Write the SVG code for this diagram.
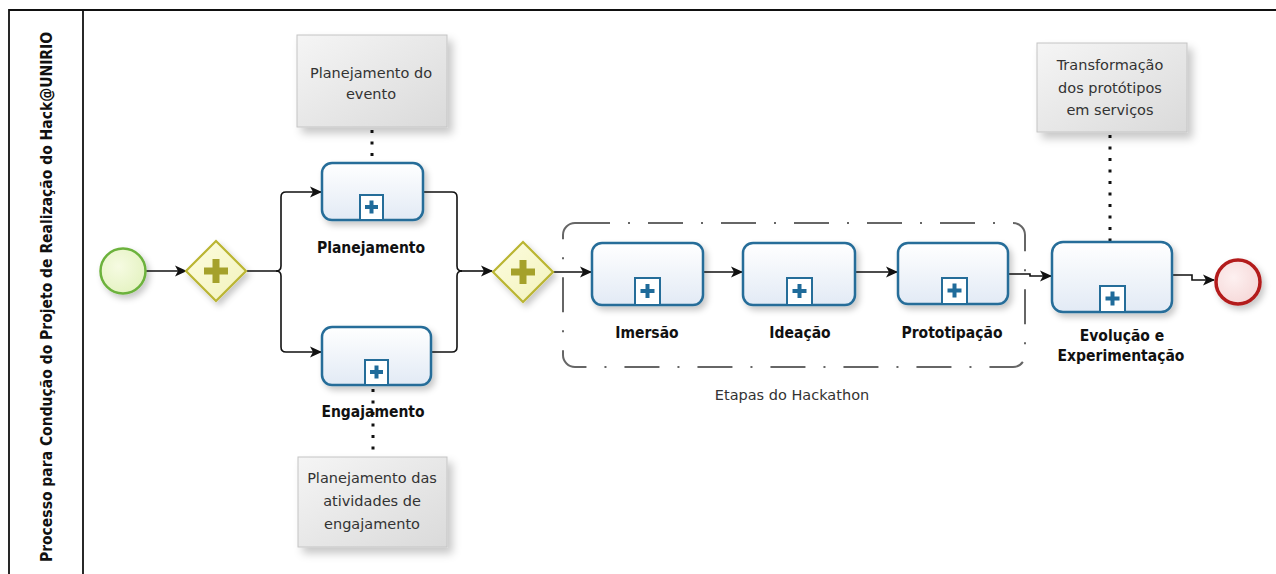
<svg xmlns="http://www.w3.org/2000/svg" width="1276" height="574" viewBox="0 0 1276 574">
<defs>
<style>
.task{fill:url(#gTask);stroke:#256d99;stroke-width:2.5;filter:url(#sh)}
.mk{fill:#ffffff;stroke:#256d99;stroke-width:2}
.mkp{fill:#1f6b9a}
.lbl{font-family:"DejaVu Sans",Verdana,sans-serif;font-stretch:condensed;font-weight:bold;font-size:15.5px;fill:#111;text-anchor:middle}
.ann{fill:url(#gAnn);stroke:#c4c4c4;stroke-width:1;filter:url(#sh2)}
.annt{font-family:"DejaVu Sans",Verdana,sans-serif;font-size:14.5px;fill:#333;text-anchor:middle}
.flow{fill:none;stroke:#111;stroke-width:1.6}
.assoc{fill:none;stroke:#111;stroke-width:3;stroke-dasharray:3 8.5}
.gw{fill:url(#gGw);stroke:#bab532;stroke-width:2.2;filter:url(#sh)}
.gwp{fill:#a5a12b}
</style>
<linearGradient id="gTask" x1="0" y1="0" x2="0" y2="1"><stop offset="0" stop-color="#ffffff"/><stop offset="1" stop-color="#e2eaf5"/></linearGradient>
<linearGradient id="gAnn" x1="0" y1="0" x2="1" y2="1"><stop offset="0" stop-color="#f5f5f5"/><stop offset="1" stop-color="#dadada"/></linearGradient>
<linearGradient id="gGw" x1="0" y1="0" x2="1" y2="1"><stop offset="0" stop-color="#fdfde0"/><stop offset="1" stop-color="#f2f2bc"/></linearGradient>
<radialGradient id="gStart" cx="0.4" cy="0.4" r="0.7"><stop offset="0" stop-color="#f6fbe2"/><stop offset="1" stop-color="#e3f2bf"/></radialGradient>
<radialGradient id="gEnd" cx="0.4" cy="0.4" r="0.7"><stop offset="0" stop-color="#fdf0f0"/><stop offset="1" stop-color="#f5d6d6"/></radialGradient>
<filter id="sh" x="-20%" y="-20%" width="150%" height="150%"><feDropShadow dx="3" dy="4" stdDeviation="3" flood-color="#000" flood-opacity="0.22"/></filter>
<filter id="sh2" x="-20%" y="-20%" width="150%" height="150%"><feDropShadow dx="5" dy="6" stdDeviation="4" flood-color="#000" flood-opacity="0.22"/></filter>
<marker id="arr" markerWidth="12" markerHeight="12" refX="11" refY="6" orient="auto" markerUnits="userSpaceOnUse"><path d="M0,0.5 L12,6 L0,11.5 L3,6 Z" fill="#111"/></marker>
</defs>
<rect x="0" y="0" width="1276" height="574" fill="#ffffff"/>

<g id="pool">
<path d="M9,574 V10 H1276" fill="none" stroke="#111" stroke-width="1.8"/>
<line x1="83" y1="10" x2="83" y2="574" stroke="#111" stroke-width="1.8"/>
<text transform="translate(52,297) rotate(-90)" class="lbl" style="font-size:15.5px">Processo para Condução do Projeto de Realização do Hack@UNIRIO</text>
</g>

<g id="group-hackathon">
<rect x="563" y="223" width="462" height="144" rx="12" fill="none" stroke="#666" stroke-width="2" stroke-dasharray="35 18 2 18"/>
<text x="792" y="400" class="annt">Etapas do Hackathon</text>
</g>

<g id="connectors">
<path class="flow" d="M146,271 H186" marker-end="url(#arr)"/>
<path class="flow" d="M247,271 H276 q5,0 5,-5 V197 q0,-5 5,-5 H321" marker-end="url(#arr)"/>
<path class="flow" d="M276,271 q5,0 5,5 V347 q0,5 5,5 H321" marker-end="url(#arr)"/>
<path class="flow" d="M423,192 H452 q5,0 5,5 V266 q0,5 5,5"/>
<path class="flow" d="M431,352 H452 q5,0 5,-5 V276 q0,-5 5,-5"/>
<path class="flow" d="M460,271 H492" marker-end="url(#arr)"/>
<path class="flow" d="M553,272 H591" marker-end="url(#arr)"/>
<path class="flow" d="M703,272 H742" marker-end="url(#arr)"/>
<path class="flow" d="M855,272 H897" marker-end="url(#arr)"/>
<path class="flow" d="M1008,274 H1030 V276 H1051" marker-end="url(#arr)"/>
<path class="flow" d="M1172,275 H1192 V280 H1214" marker-end="url(#arr)"/>
<path class="assoc" d="M372,130 V162"/>
<path class="assoc" d="M373,389 V455"/>
<path class="assoc" d="M1110,135 V241"/>
</g>

<g id="start">
<circle cx="123" cy="271" r="22.5" fill="url(#gStart)" stroke="#6cb23c" stroke-width="2.5" filter="url(#sh)"/>
</g>

<g id="gateway-split">
<path class="gw" d="M216,241 L246,271 L216,301 L186,271 Z"/>
<path class="gwp" d="M212.5,259 h7 v8.5 h8.5 v7 h-8.5 v8.5 h-7 v-8.5 h-8.5 v-7 h8.5 Z"/>
</g>

<g id="task-planejamento">
<rect class="task" x="322" y="163" width="101" height="57" rx="10"/>
<rect class="mk" x="360" y="195" width="23" height="25"/>
<path class="mkp" d="M369.5,200.5 h4 v4.5 h4.5 v4 h-4.5 v4.5 h-4 v-4.5 h-4.5 v-4 h4.5 Z"/>
<text x="371" y="253" class="lbl">Planejamento</text>
</g>

<g id="task-engajamento">
<rect class="task" x="322" y="327" width="109" height="58" rx="10"/>
<rect class="mk" x="365" y="360" width="23" height="25"/>
<path class="mkp" d="M374.5,365.5 h4 v4.5 h4.5 v4 h-4.5 v4.5 h-4 v-4.5 h-4.5 v-4 h4.5 Z"/>
<text x="373" y="417" class="lbl">Engajamento</text>
</g>

<g id="annot-evento">
<rect class="ann" x="297" y="35" width="150" height="92"/>
<text x="371" y="78" class="annt">Planejamento do</text>
<text x="371" y="99" class="annt">evento</text>
</g>

<g id="annot-engajamento">
<rect class="ann" x="298" y="457" width="149" height="90"/>
<text x="372" y="483" class="annt">Planejamento das</text>
<text x="372" y="506" class="annt">atividades de</text>
<text x="372" y="529" class="annt">engajamento</text>
</g>

<g id="gateway-join">
<path class="gw" d="M523,242 L553,272 L523,302 L493,272 Z"/>
<path class="gwp" d="M519.5,260 h7 v8.5 h8.5 v7 h-8.5 v8.5 h-7 v-8.5 h-8.5 v-7 h8.5 Z"/>
</g>

<g id="task-imersao">
<rect class="task" x="592" y="243" width="111" height="62" rx="10"/>
<rect class="mk" x="635" y="278" width="25" height="27"/>
<path class="mkp" d="M645.5,284 h4 v5 h5 v4 h-5 v5 h-4 v-5 h-5 v-4 h5 Z"/>
<text x="647" y="338" class="lbl">Imersão</text>
</g>

<g id="task-ideacao">
<rect class="task" x="743" y="243" width="112" height="62" rx="10"/>
<rect class="mk" x="787" y="278" width="25" height="27"/>
<path class="mkp" d="M797.5,284 h4 v5 h5 v4 h-5 v5 h-4 v-5 h-5 v-4 h5 Z"/>
<text x="800" y="338" class="lbl">Ideação</text>
</g>

<g id="task-prototipacao">
<rect class="task" x="898" y="243" width="110" height="61" rx="10"/>
<rect class="mk" x="942" y="278" width="25" height="26"/>
<path class="mkp" d="M952.5,283.5 h4 v5 h5 v4 h-5 v5 h-4 v-5 h-5 v-4 h5 Z"/>
<text x="952" y="338" class="lbl">Prototipação</text>
</g>

<g id="task-evolucao">
<rect class="task" x="1052" y="242" width="120" height="70" rx="11"/>
<rect class="mk" x="1100" y="286" width="25" height="26"/>
<path class="mkp" d="M1110.5,291.5 h4 v5 h5 v4 h-5 v5 h-4 v-5 h-5 v-4 h5 Z"/>
<text x="1122" y="341" class="lbl">Evolução e</text>
<text x="1121" y="361" class="lbl">Experimentação</text>
</g>

<g id="annot-transformacao">
<rect class="ann" x="1037" y="43" width="150" height="89"/>
<text x="1110" y="70" class="annt">Transformação</text>
<text x="1110" y="93" class="annt">dos protótipos</text>
<text x="1110" y="115" class="annt">em serviços</text>
</g>

<g id="end">
<circle cx="1238" cy="282" r="22" fill="url(#gEnd)" stroke="#b31b1b" stroke-width="3.5" filter="url(#sh)"/>
</g>
</svg>
